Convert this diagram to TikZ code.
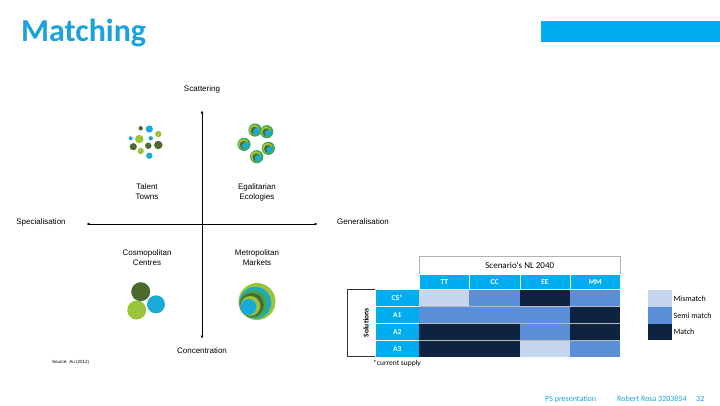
\documentclass[tikz,border=0pt]{standalone}
\usepackage{fontspec}
\setmainfont{Liberation Sans}
\newfontfamily\calib{Carlito}
\usetikzlibrary{arrows.meta,positioning}

\definecolor{titleblue}{HTML}{1BA1DB}
\definecolor{barblue}{HTML}{00AEEF}
\definecolor{dkgreen}{HTML}{4B6B2E}
\definecolor{ltgreen}{HTML}{9CC43B}
\definecolor{cblue}{HTML}{1AAAD8}
\definecolor{mgreen}{HTML}{3DA65A}
\definecolor{mislight}{HTML}{C6D6EE}
\definecolor{semimid}{HTML}{5A8ED6}
\definecolor{matchdark}{HTML}{0E2340}

\tikzset{
  axis/.style={line width=0.8pt,{Latex[length=3.5pt,width=2.6pt]}-{Latex[length=3.5pt,width=2.6pt]}},
  axlabel/.style={font=\fontsize{8}{10}\selectfont,inner sep=0pt},
  quadlabel/.style={font=\fontsize{8}{10}\selectfont,align=center,inner sep=0pt},
  hcell/.style={anchor=north west,minimum width=50.25pt,minimum height=15.3pt,inner sep=0pt,
    fill=barblue,draw=white,line width=0.6pt,text=white,font=\calib\bfseries\fontsize{7.5}{8}\selectfont},
  cell/.style={anchor=north west,minimum width=50.25pt,minimum height=16.85pt,inner sep=0pt},
  rowhead/.style={anchor=north west,minimum width=44pt,minimum height=16.85pt,inner sep=0pt,
    fill=barblue,draw=white,line width=0.6pt,text=white,font=\calib\bfseries\fontsize{7.5}{8}\selectfont},
  legbox/.style={anchor=north west,minimum width=24pt,minimum height=16.7pt,inner sep=0pt},
  legtext/.style={anchor=west,inner sep=0pt,font=\calib\fontsize{8}{9}\selectfont},
  foot/.style={inner sep=0pt,text=titleblue,font=\calib\fontsize{8}{9}\selectfont}
}

\begin{document}
\begin{tikzpicture}[x=1pt,y=-1pt]
  \useasboundingbox (0,0) rectangle (720,405);

  % title and bar
  \node[anchor=west,inner sep=0pt,text=titleblue,font=\calib\bfseries\fontsize{32}{34}\selectfont] (title) at (21,33) {Matching};
  \fill[barblue] (541,21) rectangle (720,42);

  % axes
  \coordinate (axtop) at (202,110);
  \coordinate (axbot) at (202,339);
  \coordinate (axleft) at (86,224);
  \coordinate (axright) at (318,224);
  \draw[axis] (axbot) -- (axtop);
  \draw[axis] (axleft) -- (axright);
  \node[axlabel] (scat) at (202,89) {Scattering};
  \node[axlabel] (conc) at (202,351) {Concentration};
  \node[axlabel] (spec) at (41,222) {Specialisation};
  \node[axlabel,anchor=west] (gen) at (337,222) {Generalisation};

  \node[quadlabel] (tt) at (147,192) {Talent\\Towns};
  \node[quadlabel] (ee) at (257,192) {Egalitarian\\Ecologies};
  \node[quadlabel] (cc) at (147,258) {Cosmopolitan\\Centres};
  \node[quadlabel] (mm) at (257,258) {Metropolitan\\Markets};

  % talent towns cluster
  \fill[dkgreen] (140.7,128.3) circle (2.2pt);
  \fill[cblue]   (149.3,129) circle (3.6pt);
  \fill[ltgreen] (158.3,134) circle (3.2pt);
  \fill[cblue]   (130.7,138.3) circle (2pt);
  \fill[ltgreen] (139.3,139) circle (4.2pt);
  \fill[cblue]   (150.7,138.3) circle (2.2pt);
  \fill[dkgreen] (133.3,146.7) circle (3.6pt);
  \fill[dkgreen] (148.3,145.7) circle (3.2pt);
  \fill[dkgreen] (158.3,145) circle (4.2pt);
  \fill[ltgreen] (140.7,151) circle (3.2pt);
  \fill[cblue]   (149.3,155.7) circle (3.2pt);

  % egalitarian ecologies cluster
  \foreach \cx/\cy in {255/130,266.7/131.7,244/144.3,268.3/148.3,256.7/156.7}{
    \fill[mgreen] (\cx,\cy) circle (6.6pt);
    \fill[ltgreen] (\cx-0.8,\cy-0.3) circle (5.2pt);
    \fill[dkgreen] (\cx-0.3,\cy+0.6) circle (3.9pt);
    \fill[cblue] (\cx+1.4,\cy+1.4) circle (3.3pt);
  }

  % cosmopolitan centres cluster
  \fill[dkgreen] (140.7,291.7) circle (9.5pt);
  \fill[cblue]   (156,304.3) circle (9pt);
  \fill[ltgreen] (136.7,310) circle (9.5pt);

  % metropolitan markets cluster
  \fill[ltgreen] (257,301.5) circle (18.5pt);
  \fill[cblue!80!mgreen] (255.3,302.8) circle (16pt);
  \fill[mgreen]  (253.5,304) circle (14pt);
  \fill[dkgreen] (251.8,305) circle (12pt);
  \fill[ltgreen] (250.3,306) circle (10pt);
  \fill[cblue]   (248.5,307) circle (8pt);

  \node[anchor=west,inner sep=0pt,font=\fontsize{4.5}{5}\selectfont] (src) at (52,362) {Source: Au (2012)};

  % matching table
  \node[anchor=north west,minimum width=201pt,minimum height=18pt,inner sep=0pt,draw=gray!60,line width=0.5pt,
    font=\calib\fontsize{9}{10}\selectfont] (scen) at (419,256) {Scenario's NL 2040};
  \node[hcell] (hTT) at (419,274) {TT};
  \node[hcell] (hCC) at (469.25,274) {CC};
  \node[hcell] (hEE) at (519.5,274) {EE};
  \node[hcell] (hMM) at (569.75,274) {MM};

  \draw[black!80,line width=0.5pt] (375,289.3) -- (347,289.3) -- (347,356.7) -- (375,356.7);
  \node[rotate=90,inner sep=0pt,font=\calib\bfseries\fontsize{7.5}{8}\selectfont] (sol) at (366,323) {Solutions};

  \node[rowhead] (rCS) at (375,289.3) {CS*};
  \node[rowhead] (rA1) at (375,306.15) {A1};
  \node[rowhead] (rA2) at (375,323) {A2};
  \node[rowhead] (rA3) at (375,339.85) {A3};

  \node[cell,fill=mislight]  (cs1) at (419,289.3) {};
  \node[cell,fill=semimid]   (cs2) at (469.25,289.3) {};
  \node[cell,fill=matchdark] (cs3) at (519.5,289.3) {};
  \node[cell,fill=semimid]   (cs4) at (569.75,289.3) {};
  \node[cell,fill=semimid]   (a11) at (419,306.15) {};
  \node[cell,fill=semimid]   (a12) at (469.25,306.15) {};
  \node[cell,fill=semimid]   (a13) at (519.5,306.15) {};
  \node[cell,fill=matchdark] (a14) at (569.75,306.15) {};
  \node[cell,fill=matchdark] (a21) at (419,323) {};
  \node[cell,fill=matchdark] (a22) at (469.25,323) {};
  \node[cell,fill=semimid]   (a23) at (519.5,323) {};
  \node[cell,fill=matchdark] (a24) at (569.75,323) {};
  \node[cell,fill=matchdark] (a31) at (419,339.85) {};
  \node[cell,fill=matchdark] (a32) at (469.25,339.85) {};
  \node[cell,fill=mislight]  (a33) at (519.5,339.85) {};
  \node[cell,fill=semimid]   (a34) at (569.75,339.85) {};
  \draw[gray!55,line width=0.5pt] (a11.north west) -- (a14.north east);
  \draw[gray!55,line width=0.5pt] (a21.north west) -- (a24.north east);
  \draw[gray!55,line width=0.5pt] (a31.north west) -- (a34.north east);

  \node[anchor=west,inner sep=0pt,font=\calib\fontsize{7.5}{8}\selectfont] (note) at (373,363) {*current supply};

  % legend
  \node[legbox,fill=mislight]  (lmis) at (648,290) {};
  \node[legbox,fill=semimid]   (lsemi) at (648,306.7) {};
  \node[legbox,fill=matchdark] (lmatch) at (648,323.4) {};
  \node[legtext,right=1pt of lmis] (tmis) {Mismatch};
  \node[legtext,right=1pt of lsemi] (tsemi) {Semi match};
  \node[legtext,right=1pt of lmatch] (tmatch) {Match};

  % footer
  \node[foot,anchor=west] (fpres) at (545,399) {PS presentation};
  \node[foot,anchor=west] (fname) at (617,399) {Robert Rosa 3203854};
  \node[foot,anchor=west] (fpage) at (696,399) {32};
\end{tikzpicture}
\end{document}
